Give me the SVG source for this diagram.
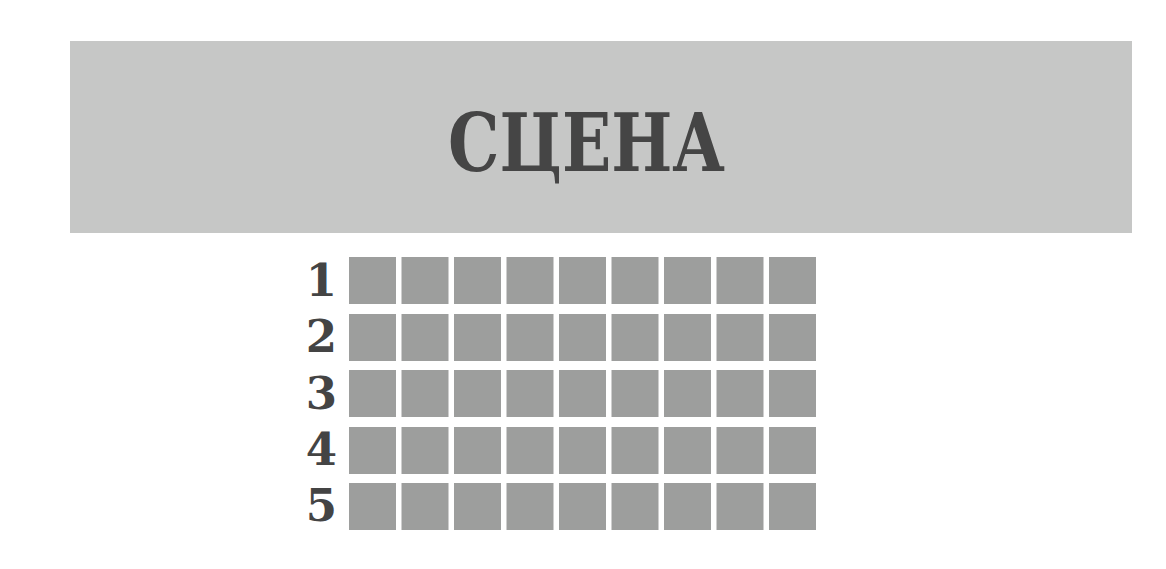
<svg xmlns="http://www.w3.org/2000/svg" width="1166" height="569" viewBox="0 0 1166 569">
<style>
.seat{fill:#9d9e9d}
.num{font-family:"DejaVu Serif","Liberation Serif",serif;font-weight:bold;font-size:45px;fill:#444444;text-anchor:end}
.stage{font-family:"DejaVu Serif","Liberation Serif",serif;font-weight:bold;font-size:80px;fill:#454545}
</style>
<rect width="1166" height="569" fill="#ffffff"/>
<g id="stage">
<rect x="70" y="41" width="1062" height="192" fill="#c6c7c6"/>
<text class="stage" x="448" y="171" textLength="277" lengthAdjust="spacingAndGlyphs">СЦЕНА</text>
</g>
<defs>
<g id="row">
<rect class="seat" x="349" y="0" width="47" height="47"/>
<rect class="seat" x="401.5" y="0" width="47" height="47"/>
<rect class="seat" x="454" y="0" width="47" height="47"/>
<rect class="seat" x="506.5" y="0" width="47" height="47"/>
<rect class="seat" x="559" y="0" width="47" height="47"/>
<rect class="seat" x="611.5" y="0" width="47" height="47"/>
<rect class="seat" x="664" y="0" width="47" height="47"/>
<rect class="seat" x="716.5" y="0" width="47" height="47"/>
<rect class="seat" x="769" y="0" width="47" height="47"/>
</g>
</defs>
<g id="row1"><text class="num" x="337" y="296">1</text><use href="#row" y="257"/></g>
<g id="row2"><text class="num" x="337" y="352">2</text><use href="#row" y="314"/></g>
<g id="row3"><text class="num" x="337" y="409">3</text><use href="#row" y="370"/></g>
<g id="row4"><text class="num" x="337" y="465">4</text><use href="#row" y="427"/></g>
<g id="row5"><text class="num" x="337" y="521">5</text><use href="#row" y="483"/></g>
</svg>
